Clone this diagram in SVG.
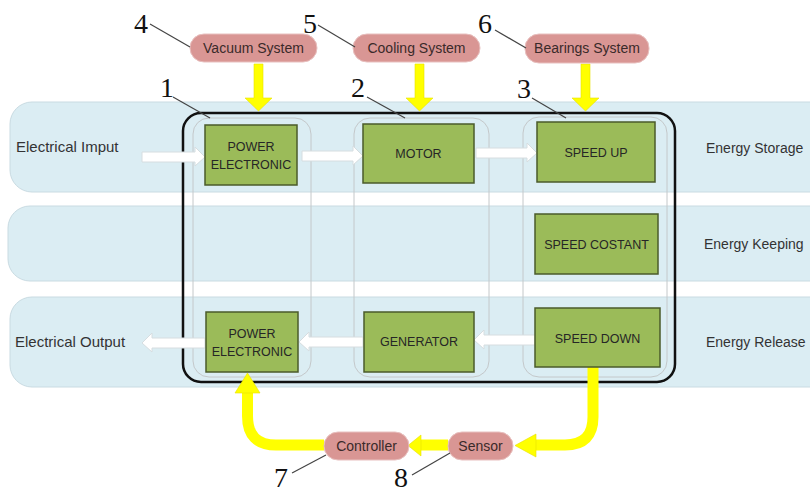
<svg xmlns="http://www.w3.org/2000/svg" width="810" height="492" viewBox="0 0 810 492">
<style>
.lane{fill:#dbedf3;stroke:#c9dbe2;stroke-width:1}
.col{fill:none;stroke:#c4c8ca;stroke-width:1}
.box{fill:#9bbb59;stroke:#4b5b2b;stroke-width:1.5}
.bt{font-family:"Liberation Sans",Arial,sans-serif;font-size:12.5px;fill:#262626;text-anchor:middle}
.lt{font-family:"Liberation Sans",Arial,sans-serif;font-size:15px;fill:#333}
.rt{font-family:"Liberation Sans",Arial,sans-serif;font-size:14px;fill:#333}
.pill{fill:#d99694;stroke:#e8c0bf;stroke-width:1}
.pt{font-family:"Liberation Sans",Arial,sans-serif;font-size:14px;fill:#3a2a2a;text-anchor:middle}
.num{font-family:"Liberation Serif","Times New Roman",serif;font-size:28px;fill:#111}
.lead{stroke:#444;stroke-width:1.2;fill:none}
.wa{fill:#ffffff;stroke:#d6dde0;stroke-width:1}
.ya{fill:#ffff00;stroke:#e8e000;stroke-width:0.6}
.yl{fill:none;stroke:#ffff00;stroke-width:11}
</style>
<g id="lanes">
<rect class="lane" x="10" y="102" width="830" height="90" rx="22"/>
<rect class="lane" x="8" y="206" width="832" height="75" rx="22"/>
<rect class="lane" x="10" y="297" width="830" height="90" rx="22"/>
<text class="lt" x="16" y="152">Electrical Imput</text>
<text class="lt" x="15" y="347">Electrical Output</text>
<text class="rt" x="706" y="153">Energy Storage</text>
<text class="rt" x="704" y="249">Energy Keeping</text>
<text class="rt" x="706" y="347">Energy Release</text>
</g>
<g id="frame">
<rect x="183" y="113" width="492" height="269" rx="18" fill="none" stroke="#111" stroke-width="2.5"/>
<rect class="col" x="193" y="118" width="118" height="259" rx="16"/>
<rect class="col" x="354" y="118" width="135" height="259" rx="16"/>
<rect class="col" x="523" y="117" width="144" height="260" rx="16"/>
</g>
<g id="connectors">
<polygon class="wa" points="142,152 195,152 195,147 205,157 195,166 195,162 142,162"/>
<polygon class="wa" points="302,151 353,151 353,146 363,156 353,165 353,161 302,161"/>
<polygon class="wa" points="476,148 527,148 527,143 537,153 527,162 527,158 476,158"/>
<polygon class="wa" points="535,335 484,335 484,330 474,340 484,349 484,345 535,345"/>
<polygon class="wa" points="363,337 309,337 309,332 299,342 309,351 309,347 363,347"/>
<polygon class="wa" points="205,338 152,338 152,333 142,343 152,352 152,348 205,348"/>
<polygon class="ya" points="254,64 263,64 263,98 272,98 258.5,111 245,98 254,98"/>
<polygon class="ya" points="415,64 424,64 424,98 433,98 419.5,111 406,98 415,98"/>
<polygon class="ya" points="581,64 590,64 590,98 599,98 585.5,111 572,98 581,98"/>
<path class="yl" d="M593 367 V417 Q593 445 565 445 H533"/>
<polygon class="ya" points="536,434 515,445.5 536,457"/>
<path class="yl" d="M448 445 H418"/>
<polygon class="ya" points="421,435 408,445.5 421,456"/>
<path class="yl" d="M324 445 H276 Q247.5 445 247.5 416 V392"/>
<polygon class="ya" points="235,393 247.5,373 260,393"/>
</g>
<g id="n1"><rect class="box" x="205" y="125" width="92" height="60"/><text class="bt" x="251" y="151">POWER</text><text class="bt" x="251" y="169">ELECTRONIC</text></g>
<g id="n2"><rect class="box" x="363" y="124" width="111" height="59"/><text class="bt" x="418.5" y="158">MOTOR</text></g>
<g id="n3"><rect class="box" x="537" y="122" width="118" height="60"/><text class="bt" x="596" y="157">SPEED UP</text></g>
<g id="n4"><rect class="box" x="535" y="214" width="123" height="60"/><text class="bt" x="596.5" y="249">SPEED COSTANT</text></g>
<g id="n5"><rect class="box" x="535" y="308" width="125" height="59"/><text class="bt" x="597.5" y="343">SPEED DOWN</text></g>
<g id="n6"><rect class="box" x="364" y="312" width="110" height="60"/><text class="bt" x="419" y="346">GENERATOR</text></g>
<g id="n7"><rect class="box" x="206" y="312" width="92" height="60"/><text class="bt" x="252" y="338">POWER</text><text class="bt" x="252" y="356">ELECTRONIC</text></g>
<g id="vacuum"><rect class="pill" x="190" y="34" width="127" height="28" rx="14"/><text class="pt" x="253.5" y="53">Vacuum System</text></g>
<g id="cooling"><rect class="pill" x="353" y="34" width="127" height="28" rx="14"/><text class="pt" x="416.5" y="53">Cooling System</text></g>
<g id="bearings"><rect class="pill" x="525" y="34" width="124" height="29" rx="14"/><text class="pt" x="587" y="53">Bearings System</text></g>
<g id="controller"><rect class="pill" x="324" y="432" width="85" height="28" rx="14"/><text class="pt" x="366.5" y="451">Controller</text></g>
<g id="sensor"><rect class="pill" x="448" y="432" width="65" height="28" rx="14"/><text class="pt" x="480.5" y="451">Sensor</text></g>
<g id="labels">
<text class="num" x="134" y="33">4</text><path class="lead" d="M150 24 L190 47"/>
<text class="num" x="303" y="33">5</text><path class="lead" d="M318 25 L355 47"/>
<text class="num" x="478" y="33">6</text><path class="lead" d="M495 30 L526 48"/>
<text class="num" x="160" y="97">1</text><path class="lead" d="M173 97 L210 118"/>
<text class="num" x="351" y="97">2</text><path class="lead" d="M367 97 L405 118"/>
<text class="num" x="517" y="98">3</text><path class="lead" d="M532 98 L566 118"/>
<text class="num" x="274" y="487">7</text><path class="lead" d="M292 473 L326 455"/>
<text class="num" x="394" y="487">8</text><path class="lead" d="M412 475 L450 453"/>
</g>
</svg>
